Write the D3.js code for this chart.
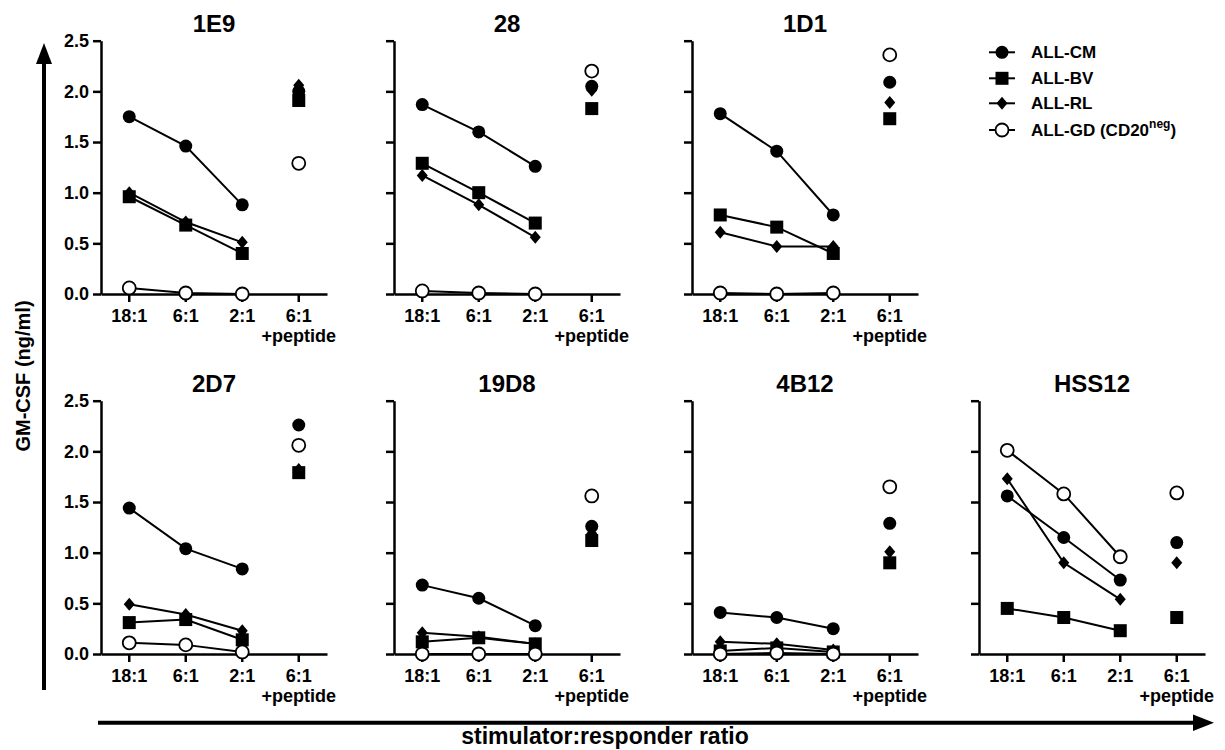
<!DOCTYPE html>
<html>
<head>
<meta charset="utf-8">
<script src="https://cdn.jsdelivr.net/npm/d3@7"></script>
<style>
  body { margin: 0; background: #fff; }
  svg text { font-family: "Liberation Sans", Arial, sans-serif; font-weight: bold; fill: #000; }
</style>
</head>
<body>
<div id="chart"></div>
<script>
const panels = ['1E9', '28', '1D1', '2D7', '19D8', '4B12', 'HSS12'];
const ratios = ['18:1', '6:1', '2:1', '6:1 +peptide'];
const seriesNames = ['ALL-CM', 'ALL-BV', 'ALL-RL', 'ALL-GD'];
const yTicks = [0, 0.5, 1.0, 1.5, 2.0, 2.5];

// one row per panel: 18:1, 6:1, 2:1, 6:1 +peptide
const allCM = [
  [1.75, 1.46, 0.88, 2.00],
  [1.87, 1.60, 1.26, 2.05],
  [1.78, 1.41, 0.78, 2.09],
  [1.44, 1.04, 0.84, 2.26],
  [0.68, 0.55, 0.28, 1.26],
  [0.41, 0.36, 0.25, 1.29],
  [1.56, 1.15, 0.73, 1.10]
];
const allBV = [
  [0.96, 0.68, 0.40, 1.91],
  [1.29, 1.00, 0.70, 1.83],
  [0.78, 0.66, 0.40, 1.73],
  [0.31, 0.34, 0.14, 1.79],
  [0.12, 0.16, 0.10, 1.12],
  [0.03, 0.06, 0.02, 0.90],
  [0.45, 0.36, 0.23, 0.36]
];
const allRL = [
  [1.00, 0.71, 0.51, 2.06],
  [1.17, 0.88, 0.56, 2.01],
  [0.61, 0.47, 0.47, 1.89],
  [0.49, 0.39, 0.23, 1.82],
  [0.21, 0.17, 0.10, 1.19],
  [0.12, 0.10, 0.04, 1.01],
  [1.73, 0.90, 0.54, 0.90]
];
const allGD = [
  [0.06, 0.01, 0.00, 1.29],
  [0.03, 0.01, 0.00, 2.20],
  [0.01, 0.00, 0.01, 2.36],
  [0.11, 0.09, 0.02, 2.06],
  [0.00, 0.00, 0.00, 1.56],
  [0.00, 0.01, 0.00, 1.65],
  [2.01, 1.58, 0.96, 1.59]
];
const seriesValues = [allCM, allBV, allRL, allGD];
const seriesShapes = ['circle', 'square', 'diamond', 'open'];

const width = 1225;
const height = 750;
const colX = [101, 394, 692, 979];
const rowBottom = [294, 654];
const plotW = 226;
const plotH = 253.3;

const svg = d3.select('#chart')
  .append('svg')
  .attr('width', width)
  .attr('height', height);

function drawMarker(g, shape, x, y) {
  if (shape === 'circle' || shape === 'open') {
    g.append('circle')
      .attr('cx', x)
      .attr('cy', y)
      .attr('r', 6.5)
      .attr('fill', shape === 'open' ? '#fff' : '#000')
      .attr('stroke', '#000')
      .attr('stroke-width', shape === 'open' ? 1.8 : 0);
  } else if (shape === 'square') {
    g.append('rect')
      .attr('x', x - 6.5)
      .attr('y', y - 6.5)
      .attr('width', 13)
      .attr('height', 13)
      .attr('fill', '#000');
  } else {
    g.append('path')
      .attr('d', 'M' + x + ',' + (y - 6.5) + 'L' + (x + 5.5) + ',' + y +
        'L' + x + ',' + (y + 6.5) + 'L' + (x - 5.5) + ',' + y + 'Z')
      .attr('fill', '#000');
  }
}

const yScale = d3.scaleLinear().domain([0, 2.5]).range([plotH, 0]);
const xScale = d3.scaleBand().domain(ratios).range([0, plotW]);

panels.forEach(function(name, p) {
  const row = p < 3 ? 0 : 1;
  const col = p < 3 ? p : p - 3;
  const g = svg.append('g')
    .attr('transform', 'translate(' + colX[col] + ',' + (rowBottom[row] - plotH) + ')');

  g.append('text')
    .attr('x', plotW / 2)
    .attr('y', -8.5)
    .attr('text-anchor', 'middle')
    .attr('font-size', '24px')
    .text(name);

  const yAxis = d3.axisLeft(yScale)
    .tickValues(yTicks)
    .tickSize(8)
    .tickSizeOuter(0)
    .tickPadding(4)
    .tickFormat(col === 0 ? d3.format('.1f') : '');
  const ya = g.append('g').call(yAxis);
  ya.selectAll('text').attr('font-size', '18px').attr('font-family', null);

  const xAxis = d3.axisBottom(xScale)
    .tickSize(8)
    .tickSizeOuter(0)
    .tickPadding(7)
    .tickFormat('');
  const xa = g.append('g')
    .attr('transform', 'translate(0,' + plotH + ')')
    .call(xAxis);
  xa.selectAll('.tick').each(function(d) {
    const parts = d.split(' ');
    const t = d3.select(this).append('text')
      .attr('y', 15)
      .attr('text-anchor', 'middle')
      .attr('font-size', '18px');
    parts.forEach(function(s, i) {
      t.append('tspan')
        .attr('x', 0)
        .attr('dy', i === 0 ? '0.71em' : '1.1em')
        .text(s);
    });
  });

  [ya, xa].forEach(function(a) {
    a.selectAll('path, line').attr('stroke', '#000').attr('stroke-width', 2.5);
  });

  const line = d3.line()
    .x(function(d, i) { return xScale(ratios[i]) + xScale.bandwidth() / 2; })
    .y(function(d) { return yScale(d); });

  seriesValues.forEach(function(vals) {
    g.append('path')
      .attr('d', line(vals[p].slice(0, 3)))
      .attr('fill', 'none')
      .attr('stroke', '#000')
      .attr('stroke-width', 2);
  });

  seriesValues.forEach(function(vals, s) {
    vals[p].forEach(function(v, i) {
      drawMarker(g, seriesShapes[s], xScale(ratios[i]) + xScale.bandwidth() / 2, yScale(v));
    });
  });
});

// legend
const legend = svg.append('g').attr('transform', 'translate(1002,0)');
const legendY = [52.3, 78.3, 103.3, 130];
seriesNames.forEach(function(n, i) {
  legend.append('line')
    .attr('x1', -13).attr('x2', 13)
    .attr('y1', legendY[i]).attr('y2', legendY[i])
    .attr('stroke', '#000')
    .attr('stroke-width', 2);
  drawMarker(legend, seriesShapes[i], 0, legendY[i]);
  const t = legend.append('text')
    .attr('x', 29)
    .attr('y', legendY[i])
    .attr('dy', '0.36em')
    .attr('font-size', '17px')
    .text(n);
  if (i === 3) {
    t.append('tspan').text(' (CD20');
    t.append('tspan').attr('font-size', '12px').attr('dy', '-0.7em').text('neg');
    t.append('tspan').attr('dy', '0.5em').text(')');
  }
});

// axis arrows
svg.append('line')
  .attr('x1', 44).attr('x2', 44)
  .attr('y1', 690).attr('y2', 58)
  .attr('stroke', '#000').attr('stroke-width', 4);
svg.append('path')
  .attr('d', 'M44,43L36,64L52,64Z')
  .attr('fill', '#000');

svg.append('line')
  .attr('x1', 98).attr('x2', 1198)
  .attr('y1', 722.7).attr('y2', 722.7)
  .attr('stroke', '#000').attr('stroke-width', 4);
svg.append('path')
  .attr('d', 'M1214,722.7L1193,714.5L1193,731Z')
  .attr('fill', '#000');

svg.append('text')
  .attr('transform', 'translate(30,376) rotate(-90)')
  .attr('text-anchor', 'middle')
  .attr('font-size', '20px')
  .text('GM-CSF (ng/ml)');

svg.append('text')
  .attr('x', 605)
  .attr('y', 744)
  .attr('text-anchor', 'middle')
  .attr('font-size', '23px')
  .text('stimulator:responder ratio');
</script>
</body>
</html>
